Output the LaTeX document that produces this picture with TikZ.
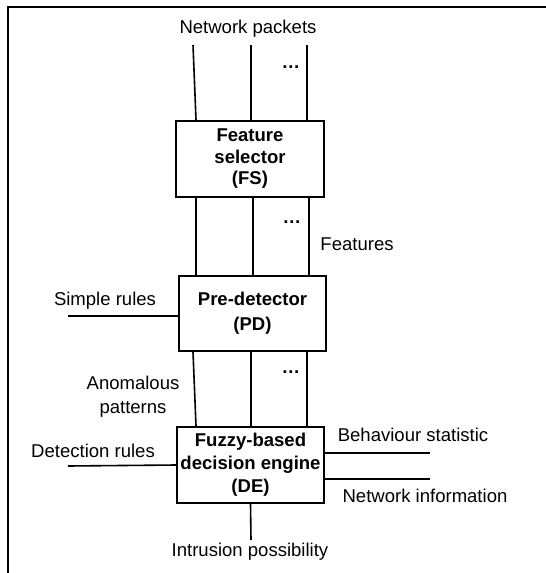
\documentclass[tikz,border=0pt]{standalone}
\usepackage{fontspec}
\setmainfont{Liberation Sans}
\usetikzlibrary{calc}
\begin{document}
\begin{tikzpicture}[x=0.75pt,y=-0.75pt,
  every node/.style={font=\fontsize{13.9}{16}\selectfont, inner sep=0pt},
  block/.style={draw, line width=1.5pt, align=center,
    font=\fontsize{13.9}{16}\selectfont\bfseries},
  wire/.style={line width=1.2pt},
  lbl/.style={align=center},
  dots/.style={font=\fontsize{13.9}{16}\selectfont\bfseries}]
\useasboundingbox (0,0) rectangle (545,573);

% outer frame (top and left edges)
\draw[line width=1.5pt] (8,574) -- (8,7) -- (546,7);

% processing blocks
\node[block, minimum width=148*0.75pt, minimum height=76*0.75pt,
  font=\fontsize{13.9}{16.1}\selectfont\bfseries]
  (FS) at (250,159) {Feature\\selector\\(FS)};
\node[block, minimum width=147*0.75pt, minimum height=75*0.75pt,
  font=\fontsize{13.9}{18.75}\selectfont\bfseries]
  (PD) at (252.5,313.5) {Pre-detector\\(PD)};
\node[block, minimum width=147*0.75pt, minimum height=76*0.75pt,
  font=\fontsize{13.9}{17.25}\selectfont\bfseries]
  (DE) at (250.5,465) {Fuzzy-based\\decision engine\\(DE)};

% free ends of the input/output wires
\coordinate (np1) at (193,45);
\coordinate (np2) at (251,45);
\coordinate (np3) at (307,45);
\coordinate (sr) at (68,316);
\coordinate (dr) at (68,466);
\coordinate (bs) at (430,453);
\coordinate (ni) at (430,479);
\coordinate (ip) at (251,540);

% network packets into FS
\draw[wire] (np1) -- ($(FS.north)+(-54,0)$);
\draw[wire] (np2) -- ($(FS.north)+(1,0)$);
\draw[wire] (np3) -- ($(FS.north)+(57,0)$);

% features from FS to PD
\draw[wire] ($(FS.south)+(-54,0)$) -- ($(PD.north)+(-56.5,0)$);
\draw[wire] ($(FS.south)+(3,0)$) -- ($(PD.north)+(0.5,0)$);
\draw[wire] ($(FS.south)+(59,0)$) -- ($(PD.north)+(56.5,0)$);

% anomalous patterns from PD to DE
\draw[wire] ($(PD.south)+(-59.5,0)$) -- ($(DE.north)+(-54.5,0)$);
\draw[wire] ($(PD.south)+(-1.5,0)$) -- ($(DE.north)+(0.5,0)$);
\draw[wire] ($(PD.south)+(54.5,0)$) -- ($(DE.north)+(56.5,0)$);

% side inputs and output
\draw[wire] (sr) -- ($(PD.west)+(0,2.5)$);
\draw[wire] (dr) -- (DE.west);
\draw[wire] ($(DE.east)+(0,-12)$) -- (bs);
\draw[wire] ($(DE.east)+(0,14)$) -- (ni);
\draw[wire] (DE.south) -- (ip);

% labels
\node (lnp) at (248,29) {Network packets};
\node[dots] (d1) at (291,67) {…};
\node[dots] (d2) at (292,222) {…};
\node[dots] (d3) at (291,372) {…};
\node (lft) at (357,244) {Features};
\node (lsr) at (105,301) {Simple rules};
\node[lbl, font=\fontsize{13.9}{18}\selectfont] (lap) at (133,397) {Anomalous\\patterns};
\node (ldr) at (93,451) {Detection rules};
\node (lbs) at (413,435) {Behaviour statistic};
\node (lni) at (425,496) {Network information};
\node (lip) at (250,552) {Intrusion possibility};
\end{tikzpicture}
\end{document}
